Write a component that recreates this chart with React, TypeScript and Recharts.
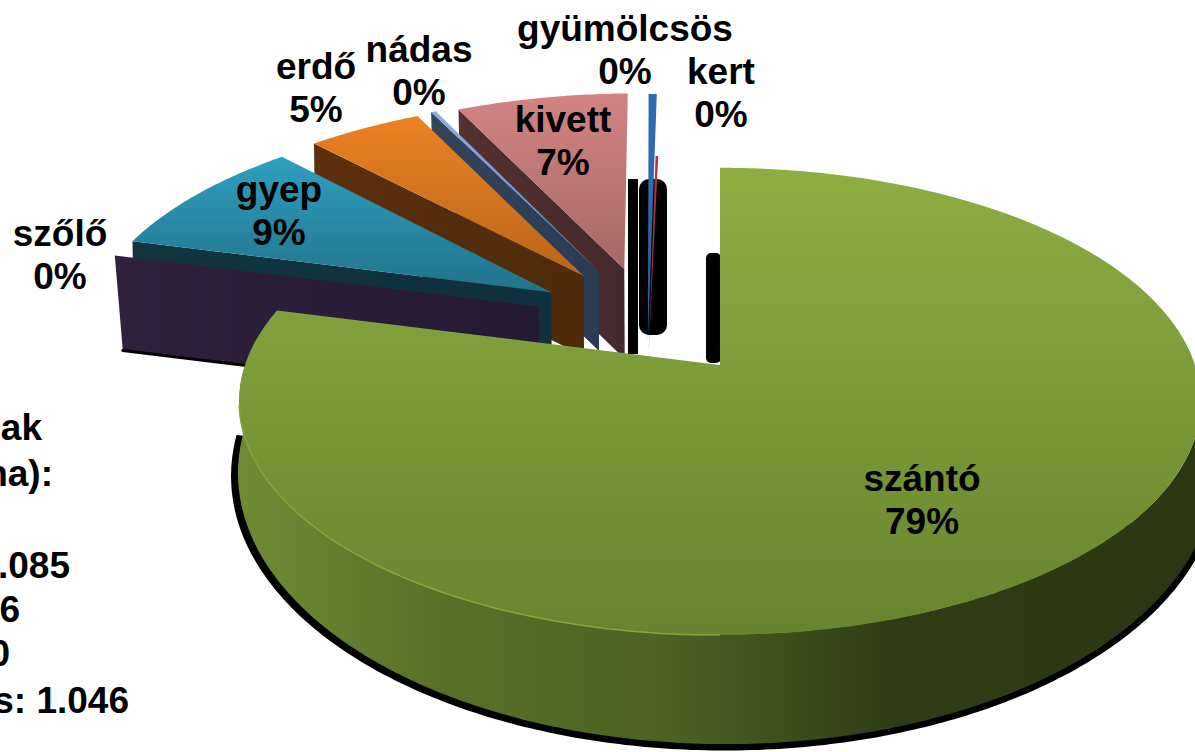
import React from "react";
import { PieChart, Pie } from "recharts";

const names = ["kert", "gyümölcsös", "kivett", "nádas", "erdő", "gyep", "szőlő", "szántó"];
const values = [0.1, 0.25, 7.0, 0.2, 4.65, 8.7, 0.1, 79];
const noteLines = ["ak", "ha):", "1.085", "6", "0", "s: 1.046"];

const chartData = names.map((name, i) => ({ name, value: values[i] }));

// styling tables (appearance only)
const FONT = "'Liberation Sans', Arial, sans-serif";
const K = 0.156, AY = 0.48;
const BASE = { dx: 6, dy: 68, a: 0.558, k: 0.148, rx: 1.016 };
const EXPLODED_SCALE = 1.01;

type Look = {
  top: string; bottom: string; wall: string; wall2: string; u: number; v: number; len?: number; depth: number; dxd: number;
  shadow?: number[]; foot?: boolean;
};
const looks: Record<string, Look> = {
  kert: { top: "#b0343a", bottom: "#95293a", wall: "#7a2a33", wall2: "#7a2a33", u: -0.15, v: 0.0575, depth: 0, dxd: 0, shadow: [639, 179, 28, 156, 10] },
  "gyümölcsös": { top: "#2f6db5", bottom: "#2c5f9e", wall: "#2c5f9e", wall2: "#2c5f9e", u: -0.153, v: 0.1116, len: 1.33, depth: 0, dxd: 0 },
  kivett: { top: "#d38483", bottom: "#a66764", wall: "#52312f", wall2: "#432a2c", u: -0.2134, v: 0.4456, depth: 90, dxd: 2, shadow: [628, 179, 10, 175, 0] },
  "nádas": { top: "#8eaadb", bottom: "#6f8cc0", wall: "#33465f", wall2: "#2a3b52", u: -0.27, v: 0.4356, depth: 80, dxd: 2 },
  "erdő": { top: "#ec8122", bottom: "#b9661a", wall: "#5d300d", wall2: "#4e2a0b", u: -0.302, v: 0.4106, depth: 80, dxd: 1 },
  gyep: { top: "#2f9fc0", bottom: "#21728a", wall: "#11363f", wall2: "#0f303c", u: -0.3696, v: 0.332, depth: 60, dxd: 1 },
  "szőlő": { top: "#3a2a50", bottom: "#3a2a50", wall: "#30213f", wall2: "#241934", u: -0.394, v: 0.265, depth: 95, dxd: 8, foot: true },
  "szántó": { top: "#8cae42", bottom: "#67852e", wall: "#6e8c33", wall2: "#2b3713", u: 0, v: 0, depth: 0, dxd: 0, shadow: [706, 253, 15, 110, 5] },
};

const labelSpots: Record<string, [number, number]> = {
  "szőlő": [60, 246], gyep: [279, 202], "erdő": [316, 79], "nádas": [419, 62],
  "gyümölcsös": [625, 41], kert: [721, 84], kivett: [563, 132], "szántó": [922, 491],
};
const noteSpots: [number, number][] = [[42, 440], [53, 486], [70, 578], [20, 622], [10, 666], [129, 713]];

function rad(d: number) { return (d * Math.PI) / 180; }

function project(cx: number, cy: number, R: number, u: number, v: number): [number, number] {
  const w = 1 + K * v;
  return [cx + (R * u) / w, cy - (R * AY * v) / w];
}
function projectBase(cx: number, cy: number, R: number, u: number, v: number): [number, number] {
  const w = 1 + BASE.k * v;
  return [cx + BASE.dx + (R * BASE.rx * u) / w, cy + BASE.dy - (R * BASE.a * v) / w];
}
function arc(fn: (u: number, v: number) => [number, number], t1: number, t2: number, ou: number, ov: number, len: number) {
  const n = Math.max(2, Math.ceil(Math.abs(t2 - t1) * 1.5));
  const pts: [number, number][] = [];
  for (let i = 0; i <= n; i++) {
    const t = rad(t1 + ((t2 - t1) * i) / n);
    pts.push(fn(ou + len * Math.sin(t), ov + len * Math.cos(t)));
  }
  return pts;
}
const toPath = (pts: [number, number][], close = true) =>
  "M" + pts.map((p) => `${p[0].toFixed(1)},${p[1].toFixed(1)}`).join("L") + (close ? "Z" : "");

function SliceShape(props: any) {
  const { cx, cy, outerRadius: R, startAngle, endAngle, name } = props;
  const look = looks[name];
  if (!look) return null;
  const t1 = 90 - endAngle;
  const t2 = 90 - startAngle;
  const id = "g" + names.indexOf(name);
  const len = look.len ?? 1;
  const shadow = look.shadow ? (
    <rect x={look.shadow[0]} y={look.shadow[1]} width={look.shadow[2]} height={look.shadow[3]} rx={look.shadow[4]} fill="#000" />
  ) : null;

  if (name === "szántó") {
    const top = (u: number, v: number) => project(cx, cy, R, u, v);
    const bf = (u: number, v: number) => projectBase(cx, cy, R, u, v);
    const sf = (u: number, v: number) => {
      const p = projectBase(cx, cy, R, u * 1.012, v * 1.012);
      return [p[0] - 1, p[1] + 2] as [number, number];
    };
    const topFront = arc(top, -270, -90, 0, 0, 1);
    const baseFront = arc(bf, -270, -90, 0, 0, 1);
    const black = arc(sf, -250, -90, 0, 0, 1);
    const face = [top(0, 0), ...arc(top, t1, t2, 0, 0, 1)];
    return (
      <g>
        <defs>
          <linearGradient id={id} x1="0" y1="168" x2="0" y2="635" gradientUnits="userSpaceOnUse">
            <stop offset="0" stopColor={look.top} />
            <stop offset="1" stopColor={look.bottom} />
          </linearGradient>
          <linearGradient id={id + "w"} x1="240" y1="0" x2="1195" y2="0" gradientUnits="userSpaceOnUse">
            <stop offset="0" stopColor={look.wall} />
            <stop offset="0.2" stopColor="#587229" />
            <stop offset="0.45" stopColor="#4b6223" />
            <stop offset="0.68" stopColor="#2f3d16" />
            <stop offset="1" stopColor={look.wall2} />
          </linearGradient>
        </defs>
        {shadow}
        <path d={toPath(black)} fill="#000" />
        <path d={toPath([...topFront, ...baseFront.slice().reverse()])} fill={`url(#${id}w)`} />
        <path d={toPath(face)} fill={`url(#${id})`} />
        <path d={toPath(arc(top, -180, -100, 0, 0, 1), false)} fill="none" stroke="#84a83a" strokeWidth={1.5} />
      </g>
    );
  }

  const rr = R * EXPLODED_SCALE;
  const top = (u: number, v: number) => project(cx, cy, rr, u, v);
  const ou = look.u, ov = look.v;
  const apex = top(ou, ov);
  const outer = top(ou + len * Math.sin(rad(t1)), ov + len * Math.cos(rad(t1)));
  const down = (p: [number, number], d: number): [number, number] => [p[0] + d, p[1] + look.depth];
  const wall = look.depth > 0 ? [outer, apex, down(apex, look.dxd * 0.2), down(outer, look.dxd)] : null;
  const face = [apex, ...arc(top, t1, t2, ou, ov, len)];
  return (
    <g>
      <defs>
        <linearGradient id={id} x1="0" y1="0" x2="0" y2="1">
          <stop offset="0" stopColor={look.top} />
          <stop offset="1" stopColor={look.bottom} />
        </linearGradient>
        <linearGradient id={id + "w"} x1="0" y1="0" x2="1" y2="0">
          <stop offset="0" stopColor={look.wall} />
          <stop offset="1" stopColor={look.wall2} />
        </linearGradient>
      </defs>
      {shadow}
      {wall && <path d={toPath(wall)} fill={`url(#${id}w)`} />}
      {look.foot && wall && (
        <path d={toPath([wall[3], wall[2]], false)} stroke="#000" strokeWidth={3} strokeLinecap="round" fill="none" />
      )}
      {wall && look.foot ? null : <path d={toPath(face)} fill={`url(#${id})`} />}
    </g>
  );
}

function renderLabel(props: any) {
  const { name, percent } = props;
  const spot = labelSpots[name];
  if (!spot) return null;
  return (
    <g key={name} fontFamily={FONT} fontWeight={700} fontSize={37} fill="#000" textAnchor="middle">
      <text x={spot[0]} y={spot[1]} textAnchor="middle">{name}</text>
      <text x={spot[0]} y={spot[1] + 43} textAnchor="middle">{Math.round(percent * 100)}%</text>
    </g>
  );
}

export default function App() {
  return (
    <div style={{ position: "absolute", left: 0, top: 0, width: 1195, height: 752, overflow: "hidden", background: "#fff" }}>
      <PieChart width={1195} height={752} margin={{ top: 0, right: 0, bottom: 0, left: 0 }}>
        <Pie
          data={chartData}
          dataKey="value"
          nameKey="name"
          cx={720}
          cy={365}
          innerRadius={0}
          outerRadius={475}
          startAngle={90}
          endAngle={450}
          stroke="none"
          isAnimationActive={false}
          shape={SliceShape}
          label={renderLabel}
          labelLine={false}
        />
      </PieChart>
      <svg width={200} height={752} style={{ position: "absolute", left: 0, top: 0 }}>
        {noteLines.map((t, i) => (
          <text key={t} x={noteSpots[i][0]} y={noteSpots[i][1]} textAnchor="end" fontFamily={FONT} fontWeight={700} fontSize={37} fill="#000">
            {t}
          </text>
        ))}
      </svg>
    </div>
  );
}
